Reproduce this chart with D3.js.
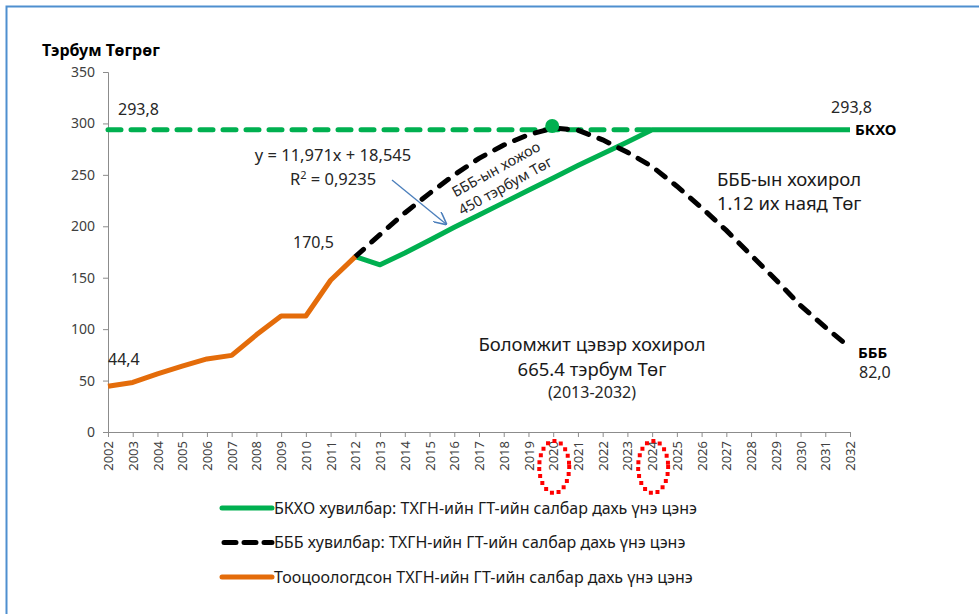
<!DOCTYPE html>
<html>
<head>
<meta charset="utf-8">
<script src="https://cdn.jsdelivr.net/npm/d3@7"></script>
<style>
  body { margin: 0; background: #fff; }
  svg { font-family: "Noto Sans", "DejaVu Sans", sans-serif; }
  .axis path, .axis line { stroke: #8c8c8c; }
  .axis text { fill: #404040; font-size: 12.5px; font-family: "Noto Sans", sans-serif; }
</style>
</head>
<body>
<div class="chart"></div>
<script>
const years = ['2002','2003','2004','2005','2006','2007','2008','2009','2010','2011','2012','2013','2014','2015','2016','2017','2018','2019','2020','2021','2022','2023','2024','2025','2026','2027','2028','2029','2030','2031','2032'];
const yTicks = [0, 50, 100, 150, 200, 250, 300, 350];

// orange: estimated actual values
const actualYears = ['2002','2003','2004','2005','2006','2007','2008','2009','2010','2011','2012'];
const actualValues = [44.4, 48.2, 56.5, 64, 71, 74.5, 94.5, 112.8, 112.8, 147.5, 170.5];

// green: БКХО scenario
const bkhoYears = ['2012','2013','2014','2015','2016','2017','2018','2019','2020','2021','2022','2023','2024','2025','2026','2027','2028','2029','2030','2031','2032'];
const bkhoValues = [170.5, 162.5, 174, 186.5, 199, 211, 223, 235, 247, 259, 270.5, 282, 293.8, 293.8, 293.8, 293.8, 293.8, 293.8, 293.8, 293.8, 293.8];

// black dashed: БББ scenario
const bbbYears = bkhoYears;
const bbbValues = [170.5, 192, 213, 232, 250, 266, 279, 289, 295.5, 293.5, 284, 272, 258, 239, 218, 196, 172, 148, 123, 102, 82.0];

// green dashed target
const targetYears = ['2002', '2024'];
const targetValue = 293.8;
const peakPoint = { year: '2020', value: 297.5 };

const legendItems = [
  { label: 'БКХО хувилбар: ТХГН-ийн ГТ-ийн салбар дахь үнэ цэнэ', color: '#00b050', dash: null },
  { label: 'БББ хувилбар: ТХГН-ийн ГТ-ийн салбар дахь үнэ цэнэ', color: '#000000', dash: true },
  { label: 'Тооцоологдсон ТХГН-ийн ГТ-ийн салбар дахь үнэ цэнэ', color: '#e46c0a', dash: null }
];

const W = 979, H = 614;
const svg = d3.select('.chart').append('svg').attr('width', W).attr('height', H);

// frame (cropped box)
svg.append('path')
  .attr('d', `M6.5,${H} L6.5,6.5 L${W},6.5`)
  .attr('fill', 'none').attr('stroke', '#4f8fcf').attr('stroke-width', 2);

const x = d3.scalePoint().domain(years).range([108, 850]);
const y = d3.scaleLinear().domain([0, 350]).range([432, 72]);

// axes
const yAxis = d3.axisLeft(y).tickValues(yTicks).tickSize(5).tickPadding(8);
svg.append('g').attr('class', 'axis').attr('transform', 'translate(108,0)').call(yAxis)
  .selectAll('text').style('font-size', '14px');

const xAxis = d3.axisBottom(x).tickSize(5).tickSizeOuter(0);
const gx = svg.append('g').attr('class', 'axis').attr('transform', 'translate(0,432)').call(xAxis);
gx.selectAll('text')
  .attr('transform', 'rotate(-90)')
  .attr('x', -9).attr('y', 0).attr('dy', '0.35em')
  .style('text-anchor', 'end')
  .style('font-size', '13px');

const line = d3.line().x(d => x(d[0])).y(d => y(d[1]));

// green dashed target
svg.append('path')
  .datum(targetYears.map(t => [t, targetValue]))
  .attr('d', line).attr('fill', 'none')
  .attr('stroke', '#00b050').attr('stroke-width', 5)
  .attr('stroke-dasharray', '13,10').attr('stroke-linecap', 'round');

// green solid
svg.append('path')
  .datum(bkhoYears.map((t, i) => [t, bkhoValues[i]]))
  .attr('d', line).attr('fill', 'none')
  .attr('stroke', '#00b050').attr('stroke-width', 5).attr('stroke-linejoin', 'round');

// black dashed
svg.append('path')
  .datum(bbbYears.map((t, i) => [t, bbbValues[i]]))
  .attr('d', line).attr('fill', 'none')
  .attr('stroke', '#000').attr('stroke-width', 5)
  .attr('stroke-dasharray', '11,11').attr('stroke-linecap', 'round');

// orange
svg.append('path')
  .datum(actualYears.map((t, i) => [t, actualValues[i]]))
  .attr('d', line).attr('fill', 'none')
  .attr('stroke', '#e46c0a').attr('stroke-width', 5).attr('stroke-linejoin', 'round');

// peak marker
svg.append('circle')
  .attr('cx', x(peakPoint.year) - 1).attr('cy', y(peakPoint.value))
  .attr('r', 7).attr('fill', '#00b050');

// value labels
const txt = (tx, ty, s, opts = {}) => svg.append('text')
  .attr('x', tx).attr('y', ty).text(s)
  .attr('fill', opts.fill || '#262626')
  .attr('text-anchor', opts.anchor || 'start')
  .style('font-size', (opts.size || 16) + 'px')
  .style('font-weight', opts.weight || 'normal');

txt(118, 115, '293,8');
txt(872, 113, '293,8', { anchor: 'end' });
txt(855, 135, 'БКХО', { weight: 'bold', size: 15, fill: '#000' });
txt(858, 358, 'БББ', { weight: 'bold', size: 15, fill: '#000' });
txt(859, 378, '82,0');
txt(108, 365, '44,4');
txt(293, 248, '170,5');
txt(42, 56, 'Тэрбум Төгрөг', { weight: 'bold', size: 16, fill: '#000' });

// trend equation
txt(333, 161, 'y = 11,971x + 18,545', { anchor: 'middle', size: 16.5 });
svg.append('text').attr('x', 333).attr('y', 185).attr('text-anchor', 'middle')
  .attr('fill', '#262626').style('font-size', '16.5px')
  .html('R<tspan dy="-6" font-size="11">2</tspan><tspan dy="6"> = 0,9235</tspan>');

// blue arrow
svg.append('defs').append('marker')
  .attr('id', 'arr').attr('viewBox', '0 0 10 10').attr('refX', 9).attr('refY', 5)
  .attr('markerWidth', 10).attr('markerHeight', 10).attr('orient', 'auto')
  .append('path').attr('d', 'M0,0 L10,5 L0,10').attr('fill', 'none').attr('stroke', '#4a7ebb').attr('stroke-width', 1.2);
svg.append('line').attr('x1', 392).attr('y1', 180).attr('x2', 446).attr('y2', 224)
  .attr('stroke', '#4a7ebb').attr('stroke-width', 1.3).attr('marker-end', 'url(#arr)');

// rotated gain label
const g1 = svg.append('g').attr('transform', 'translate(501,178) rotate(-29)');
g1.append('text').attr('x', 0).attr('y', -5).attr('text-anchor', 'middle')
  .attr('fill', '#262626').style('font-size', '14.5px').text('БББ-ын хожоо');
g1.append('text').attr('x', 0).attr('y', 14).attr('text-anchor', 'middle')
  .attr('fill', '#262626').style('font-size', '14.5px').text('450 тэрбум Төг');

// loss label
txt(717, 186, 'БББ-ын хохирол', { size: 18.5, fill: '#1a1a1a' });
txt(717, 210, '1.12 их наяд Төг', { size: 18.5, fill: '#1a1a1a' });

// net loss label
txt(592, 351, 'Боломжит цэвэр хохирол', { anchor: 'middle', size: 18.5, fill: '#1a1a1a' });
txt(592, 376, '665.4 тэрбум Төг', { anchor: 'middle', size: 18.5, fill: '#1a1a1a' });
txt(592, 398, '(2013-2032)', { anchor: 'middle', size: 16, fill: '#262626' });

// red dotted ellipses around 2020 and 2024
['2020', '2024'].forEach(yr => {
  svg.append('ellipse')
    .attr('cx', x(yr) + 1).attr('cy', 467).attr('rx', 15).attr('ry', 26)
    .attr('fill', 'none').attr('stroke', '#ff0000').attr('stroke-width', 4)
    .attr('stroke-dasharray', '0,7').attr('stroke-linecap', 'square');
});

// legend
const lg = svg.append('g').attr('transform', 'translate(222,508)');
legendItems.forEach((d, i) => {
  const row = lg.append('g').attr('transform', `translate(0,${i * 34.5})`);
  row.append('line').attr('x1', d.dash ? 2 : 0).attr('x2', 50).attr('y1', 0).attr('y2', 0)
    .attr('stroke', d.color).attr('stroke-width', 5)
    .attr('stroke-linecap', 'round')
    .attr('stroke-dasharray', d.dash ? '12,8' : null);
  row.append('text').attr('x', 52).attr('y', 0).attr('dy', '0.35em')
    .attr('fill', '#1a1a1a').style('font-size', '16px').text(d.label);
});
</script>
</body>
</html>
